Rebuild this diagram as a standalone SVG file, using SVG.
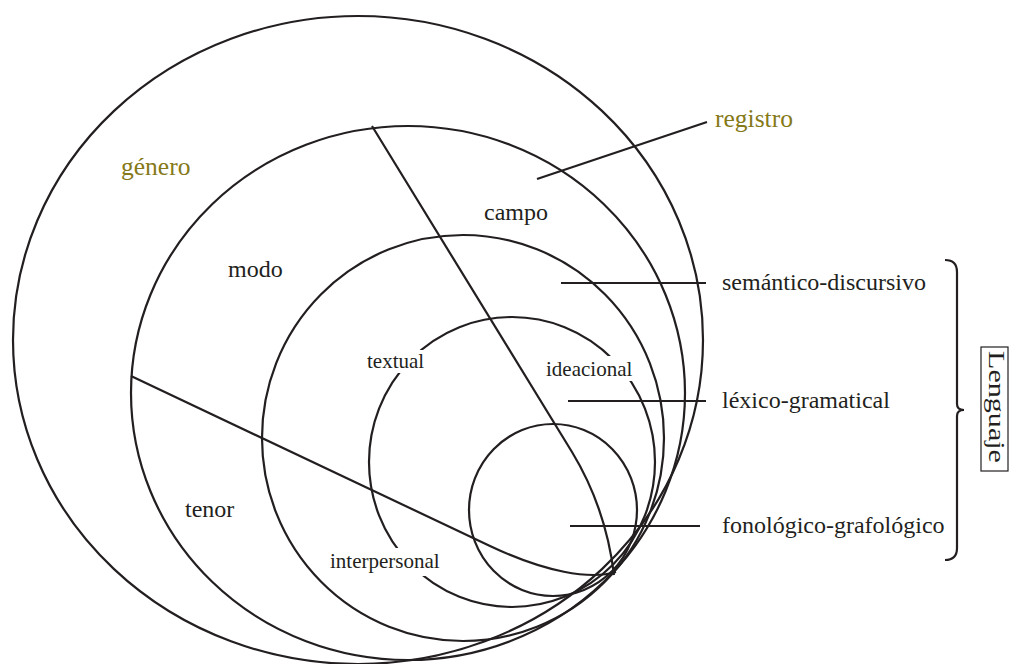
<svg xmlns="http://www.w3.org/2000/svg" width="1014" height="664" viewBox="0 0 1014 664">
<style>
.c{fill:none;stroke:#231f20;stroke-width:2.2}
.l{fill:none;stroke:#231f20;stroke-width:2.2}
.t{font-family:"Liberation Serif","Times New Roman",serif;fill:#231f20;font-size:24px}
.s{font-size:21px}
.o{fill:#857918;font-size:25.5px}
.bg{fill:#fff}
</style>
<rect width="1014" height="664" fill="#fff"/>
<g id="genero"><ellipse class="c" cx="358" cy="340" rx="345" ry="324"/></g>
<g id="registro"><ellipse class="c" cx="408" cy="393" rx="277" ry="267"/></g>
<g id="semantico"><ellipse class="c" cx="463" cy="438" rx="201" ry="203"/></g>
<g id="lexico"><ellipse class="c" cx="512" cy="462" rx="143" ry="145"/></g>
<g id="fonologico"><ellipse class="c" cx="553" cy="510" rx="84" ry="86"/></g>
<g id="connectors">
<path class="l" d="M372,126 L572,452 C592,485 608,525 614,575"/>
<path class="l" d="M131,376 L490,546 C545,572 590,580 616,572"/>
<path class="l" d="M537,179 L707,122"/>
<path class="l" d="M561,283 L706,283"/>
<path class="l" d="M568,401 L706,401"/>
<path class="l" d="M570,526 L700,526"/>
<path class="l" d="M945,260 Q957,260 957,272 L957,404 Q957,410 964,410 Q957,410 957,416 L957,548 Q957,560 945,560" stroke-width="1.3"/>
</g>
<g id="labels">
<text class="t o" x="121" y="175">género</text>
<text class="t o" x="715" y="127">registro</text>
<text class="t" x="484" y="220">campo</text>
<text class="t" x="228" y="277">modo</text>
<text class="t" x="185" y="517">tenor</text>
<rect class="bg" x="363" y="350" width="66" height="23"/>
<text class="t s" x="367" y="368">textual</text>
<rect class="bg" x="543" y="356" width="94" height="25"/>
<text class="t s" x="546" y="376">ideacional</text>
<rect class="bg" x="327" y="548" width="120" height="28"/>
<text class="t s" x="330" y="568">interpersonal</text>
<text class="t" x="722" y="290">semántico-discursivo</text>
<text class="t" x="722" y="408">léxico-gramatical</text>
<text class="t" x="722" y="533">fonológico-grafológico</text>
</g>
<g id="lenguaje">
<rect x="981" y="347" width="27" height="124" fill="#fff" stroke="#231f20" stroke-width="1.2"/>
<text class="t" x="0" y="0" font-size="25" textLength="112" lengthAdjust="spacingAndGlyphs" transform="translate(988.5,351) rotate(90)">Lenguaje</text>
</g>
</svg>
